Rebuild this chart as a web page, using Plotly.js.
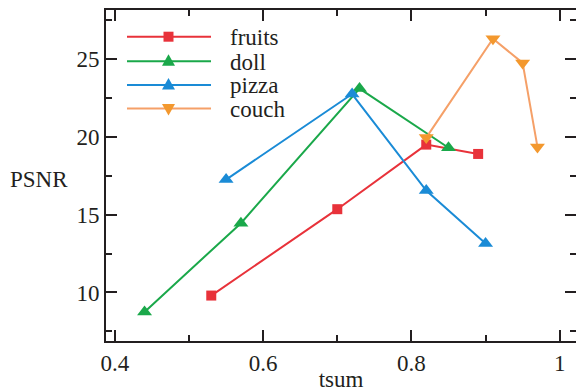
<!DOCTYPE html>
<html>
<head>
<meta charset="utf-8">
<script src="https://cdn.plot.ly/plotly-3.0.1.min.js"></script>
<style>html,body{margin:0;padding:0;background:#fff;}#chart{width:576px;height:392px;}</style>
</head>
<body>
<div id="chart"></div>
<script>
const seriesNames = ["fruits", "doll", "pizza", "couch"];
const fruitsX = [0.53, 0.70, 0.82, 0.89];
const fruitsY = [9.8, 15.35, 19.5, 18.9];
const dollX = [0.44, 0.57, 0.73, 0.85];
const dollY = [8.75, 14.45, 23.1, 19.3];
const pizzaX = [0.55, 0.72, 0.82, 0.90];
const pizzaY = [17.25, 22.75, 16.55, 13.15];
const couchX = [0.82, 0.91, 0.95, 0.97];
const couchY = [19.95, 26.3, 24.75, 19.35];
const xTicks = [0.4, 0.6, 0.8, 1];
const yTicks = [10, 15, 20, 25];

const font = "'Liberation Serif', 'Times New Roman', serif";
const ink = "#231f20";
const FS = 23;

const lineColors = ["#e8323a", "#1aa84a", "#1a8bd6", "#f5a068"];
const markerColors = ["#e8323a", "#1aa84a", "#1a8bd6", "#f3982e"];
const symbols = ["square", "triangle-up", "triangle-up", "triangle-down"];
const xs = [fruitsX, dollX, pizzaX, couchX];
const ys = [fruitsY, dollY, pizzaY, couchY];

const traces = seriesNames.map((n, i) => ({
  x: xs[i], y: ys[i], name: n, mode: "lines+markers", showlegend: false,
  line: {color: lineColors[i], width: 2},
  marker: {symbol: symbols[i], size: i === 0 ? 10 : 13, color: markerColors[i]}
}));

// layout geometry (pixels)
const W = 576, H = 392, L = 106, R = 0, T = 10, B = 51;
const PW = W - L - R, PH = H - T - B;
const px = v => (v - L) / PW;
const py = v => (H - B - v) / PH;

// manual legend (layout decoration)
const legRows = [36.7, 61.2, 85, 108.5];
const legX0 = 127, legX1 = 211, legMX = 168.5, legTX = 228;
const shapes = [];
const annotations = [];
seriesNames.forEach((n, i) => {
  const y = legRows[i];
  shapes.push({type: "line", xref: "paper", yref: "paper", x0: px(legX0), x1: px(legX1), y0: py(y), y1: py(y),
               line: {color: lineColors[i], width: 2}});
  let path;
  if (symbols[i] === "square") {
    const s = 5;
    path = `M${legMX - s},${y - s} L${legMX + s},${y - s} L${legMX + s},${y + s} L${legMX - s},${y + s} Z`;
  } else if (symbols[i] === "triangle-up") {
    path = `M${legMX - 6.5},${y + 4.5} L${legMX + 6.5},${y + 4.5} L${legMX},${y - 7} Z`;
  } else {
    path = `M${legMX - 6.5},${y - 4.5} L${legMX + 6.5},${y - 4.5} L${legMX},${y + 7} Z`;
  }
  const conv = path.replace(/(-?[\d.]+),(-?[\d.]+)/g, (m, a, b) => `${px(+a)},${py(+b)}`);
  shapes.push({type: "path", xref: "paper", yref: "paper", path: conv,
               fillcolor: markerColors[i], line: {color: markerColors[i], width: 0}});
  annotations.push({text: n, xref: "paper", yref: "paper", x: px(legTX), y: py(y + 1), xanchor: "left", yanchor: "middle",
                    showarrow: false, font: {family: font, size: FS, color: ink}});
});
annotations.push({text: "PSNR", xref: "paper", yref: "paper", x: px(70), y: py(180), xanchor: "right", yanchor: "middle",
                  showarrow: false, font: {family: font, size: FS, color: ink}});

const axisCommon = {
  showgrid: false, zeroline: false, showline: true, linecolor: ink, linewidth: 2,
  mirror: "ticks", ticks: "inside", ticklen: 11, tickwidth: 2, tickcolor: ink,
  tickfont: {family: font, size: FS, color: ink}
};

const layout = {
  width: W, height: H,
  margin: {l: L, r: R, t: T, b: B},
  paper_bgcolor: "#fff", plot_bgcolor: "#fff",
  showlegend: false,
  xaxis: Object.assign({}, axisCommon, {
    range: [0.388, 1.022], tickvals: xTicks, ticktext: xTicks.map(String),
    minor: {dtick: 0.1, ticks: "inside", ticklen: 6, tickwidth: 2, tickcolor: ink},
    title: {text: "tsum", font: {family: font, size: FS, color: ink}, standoff: 1}
  }),
  yaxis: Object.assign({}, axisCommon, {
    range: [6.88, 28.15], tickvals: yTicks, ticktext: yTicks.map(String),
    minor: {dtick: 2.5, ticks: "inside", ticklen: 6, tickwidth: 2, tickcolor: ink}
  }),
  shapes: shapes,
  annotations: annotations
};

Plotly.newPlot("chart", traces, layout, {displayModeBar: false, staticPlot: true});
</script>
</body>
</html>
